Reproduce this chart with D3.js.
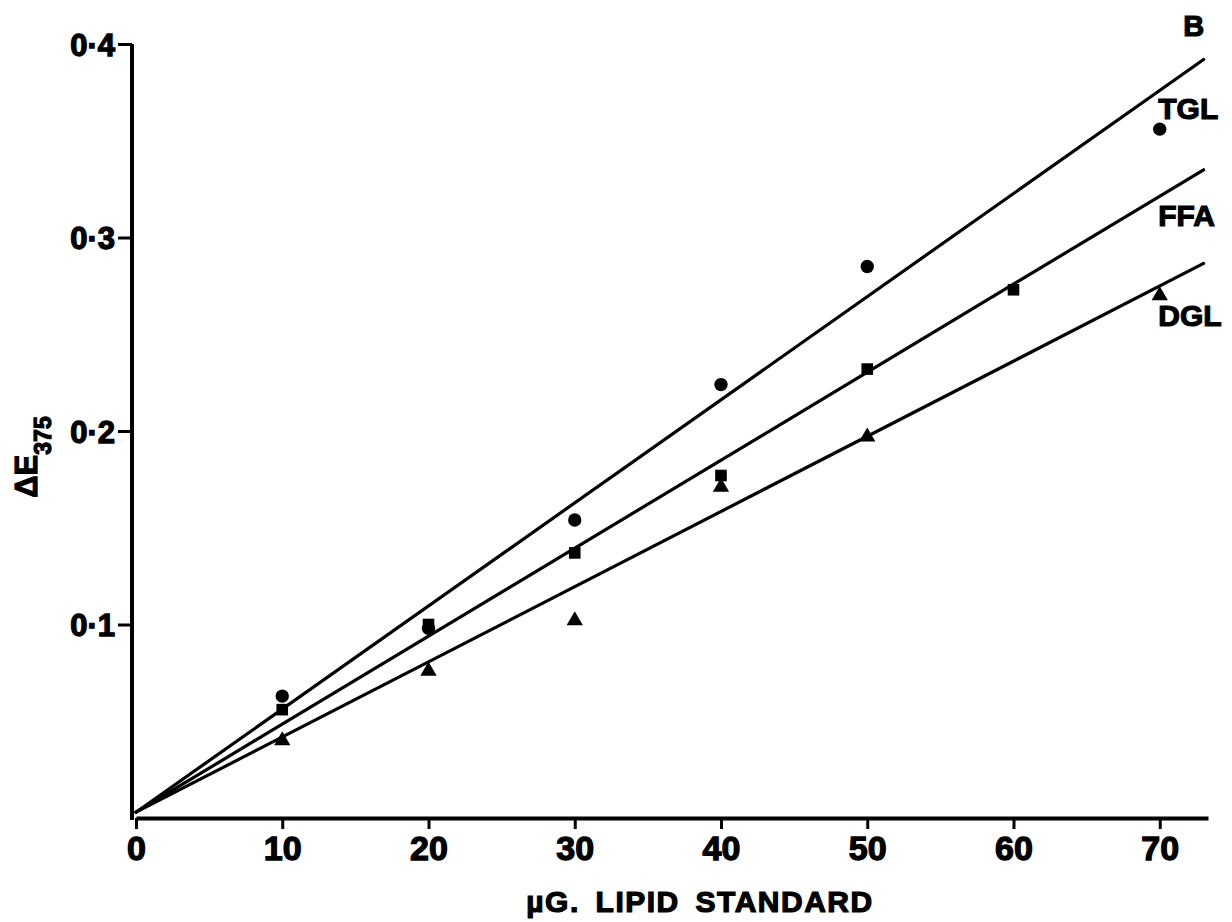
<!DOCTYPE html>
<html><head><meta charset="utf-8">
<script src="https://cdn.jsdelivr.net/npm/d3@7"></script>
<style>
html,body{margin:0;padding:0;background:#fff;}
svg{display:block;}
.tick text{font-family:"Liberation Sans Narrow","Liberation Sans",Arial,sans-serif;font-weight:bold;fill:#000;stroke:#000;stroke-width:1.3px;}
</style></head>
<body>
<script>
// ---- data ----
const xTicks = [0, 10, 20, 30, 40, 50, 60, 70];
const yTicks = [0.1, 0.2, 0.3, 0.4];
const yTickLabels = ["0·1", "0·2", "0·3", "0·4"];

const tglX = [10, 20, 30, 40, 50, 70];
const tglY = [0.063, 0.098, 0.154, 0.224, 0.285, 0.356];
const ffaX = [10, 20, 30, 40, 50, 60];
const ffaY = [0.056, 0.100, 0.137, 0.177, 0.232, 0.273];
const dglX = [10, 20, 30, 40, 50, 70];
const dglY = [0.040, 0.076, 0.102, 0.171, 0.197, 0.270];

// fitted lines: [x, y] endpoints
const lineX = [0, 73];
const tglLine = [0.003, 0.392];
const ffaLine = [0.003, 0.335];
const dglLine = [0.003, 0.2866];

const seriesNames = ["TGL", "FFA", "DGL"];
const panelLabel = "B";
const xTitle = "µG. LIPID STANDARD";

// ---- drawing ----
const W = 1232, H = 922;
const svg = d3.select("body").append("svg").attr("width", W).attr("height", H);

const x = d3.scaleLinear().domain([0, 73.3]).range([136, 1208]);
const y = d3.scaleLinear().domain([0, 0.4]).range([818, 44]);

const xAxis = d3.axisBottom(x).tickValues(xTicks).tickFormat(d3.format("d")).tickSize(11).tickSizeOuter(0).tickPadding(7);
const gx = svg.append("g").attr("transform", `translate(0,${y(0)})`).call(xAxis);
gx.select(".domain").attr("stroke", "#000").attr("stroke-width", 4);
gx.selectAll(".tick line").attr("stroke", "#000").attr("stroke-width", 3);
gx.selectAll(".tick text").attr("font-size", 34);

const yAxis = d3.axisLeft(y).tickValues(yTicks).tickFormat((d, i) => yTickLabels[i]).tickSize(14).tickSizeOuter(0).tickPadding(3);
const gy = svg.append("g").attr("transform", `translate(${x(0) - 4},0)`).call(yAxis);
gy.select(".domain").attr("stroke", "#000").attr("stroke-width", 4).attr("d", `M0,${y(0.4)}V${y(0) + 2}`);
gy.selectAll(".tick line").attr("stroke", "#000").attr("stroke-width", 3);
gy.selectAll(".tick text").attr("font-size", 31).attr("dy", "0.36em");

// lines
const lines = [tglLine, ffaLine, dglLine];
lines.forEach(l => {
  svg.append("line")
    .attr("x1", x(lineX[0])).attr("y1", y(l[0]))
    .attr("x2", x(lineX[1])).attr("y2", y(l[1]))
    .attr("stroke", "#000").attr("stroke-width", 3.2).attr("stroke-linecap", "round");
});

// markers
const sym = [d3.symbolCircle, d3.symbolSquare, d3.symbolTriangle];
const sizes = [140, 135, 115];
[[tglX, tglY], [ffaX, ffaY], [dglX, dglY]].forEach((s, k) => {
  svg.append("g").selectAll("path").data(s[0].map((v, i) => [v, s[1][i]])).join("path")
    .attr("d", d3.symbol().type(sym[k]).size(sizes[k]))
    .attr("transform", d => `translate(${x(d[0])},${y(d[1])})`)
    .attr("fill", "#000");
});

// series labels
const labelFont = '"Liberation Sans",Arial,sans-serif';
const labelPos = [[69.9, 0.361], [69.9, 0.306], [69.9, 0.2545]];
seriesNames.forEach((n, i) => {
  svg.append("text").attr("x", x(labelPos[i][0])).attr("y", y(labelPos[i][1]))
    .attr("font-family", labelFont).attr("font-weight", "bold").attr("font-size", 30)
    .attr("stroke", "#000").attr("stroke-width", 1.2)
    .text(n);
});
svg.append("text").attr("x", x(71.6)).attr("y", 36)
  .attr("font-family", labelFont).attr("font-weight", "bold").attr("font-size", 29)
  .attr("stroke", "#000").attr("stroke-width", 1.2)
  .text(panelLabel);

// axis titles
svg.append("text").attr("x", 700).attr("y", 912).attr("text-anchor", "middle")
  .attr("font-family", labelFont).attr("font-weight", "bold").attr("font-size", 30)
  .attr("stroke", "#000").attr("stroke-width", 1.2)
  .attr("letter-spacing", 1.5).attr("word-spacing", 6)
  .text(xTitle);

const yt = svg.append("text").attr("transform", "translate(37,457) rotate(-90)")
  .attr("text-anchor", "middle")
  .attr("font-family", labelFont).attr("font-weight", "bold").attr("font-size", 31)
  .attr("stroke", "#000").attr("stroke-width", 1.2);
yt.append("tspan").text("ΔE");
yt.append("tspan").attr("font-size", 23).attr("dy", 14).text("375");
</script>
</body></html>
